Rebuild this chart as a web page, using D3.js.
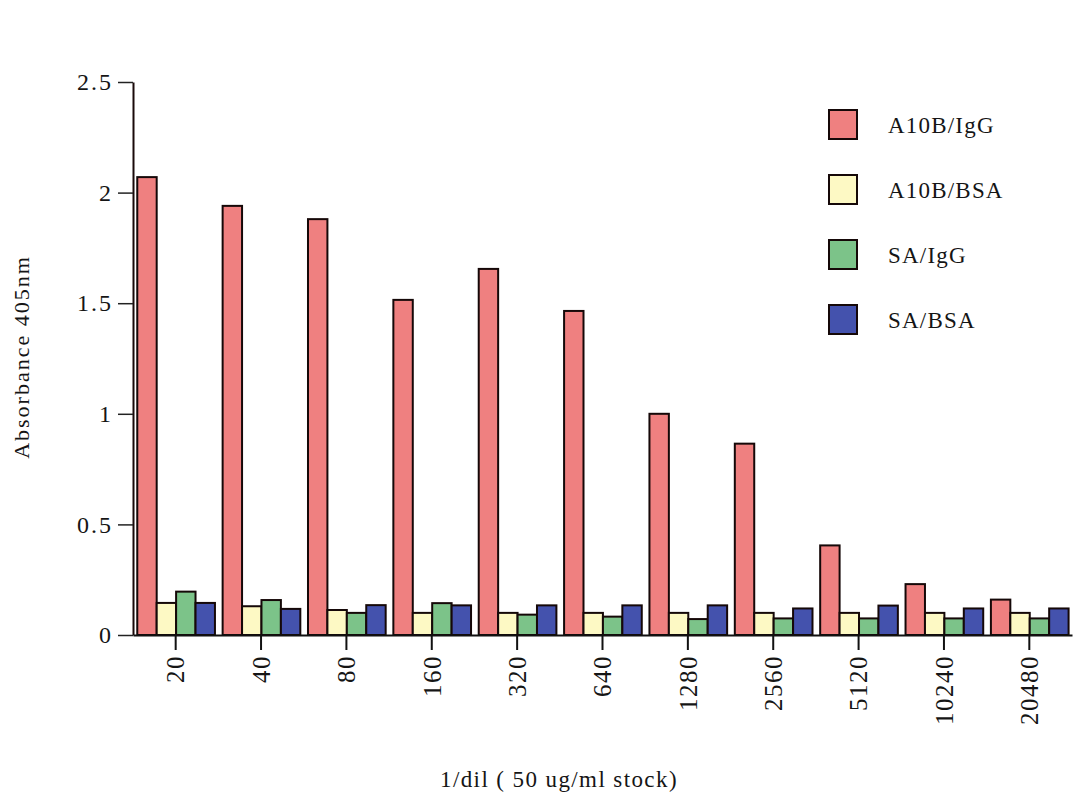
<!DOCTYPE html>
<html>
<head>
<meta charset="utf-8">
<script src="https://cdn.jsdelivr.net/npm/d3@7"></script>
<style>
  body { margin: 0; background: #fff; }
  svg { font-family: "Liberation Serif", "Times New Roman", serif; }
</style>
</head>
<body>
<svg id="chart" width="1080" height="808"></svg>
<script>
// dilutions (1/dil)
const dilutions = ["20", "40", "80", "160", "320", "640", "1280", "2560", "5120", "10240", "20480"];
const seriesNames = ["A10B/IgG", "A10B/BSA", "SA/IgG", "SA/BSA"];
const a10bIgG = [2.07, 1.94, 1.88, 1.515, 1.655, 1.465, 1.0, 0.865, 0.405, 0.23, 0.16];
const a10bBSA = [0.145, 0.13, 0.113, 0.10, 0.10, 0.10, 0.10, 0.10, 0.10, 0.10, 0.10];
const saIgG = [0.196, 0.158, 0.10, 0.144, 0.092, 0.083, 0.072, 0.075, 0.075, 0.075, 0.075];
const saBSA = [0.145, 0.118, 0.135, 0.134, 0.134, 0.134, 0.134, 0.12, 0.133, 0.12, 0.12];
const yTicks = [0, 0.5, 1, 1.5, 2, 2.5];

const colors = ["#ef8080", "#fdf9c4", "#7cc389", "#4452ad"];
const allSeries = [a10bIgG, a10bBSA, saIgG, saBSA];

const svg = d3.select("#chart");
const margin = {left: 133, right: 8, top: 82, bottom: 173};
const W = 1080, H = 808;

let x0 = d3.scaleBand()
    .domain(dilutions)
    .range([margin.left, W - margin.right])
    .padding(0);

let x1 = d3.scaleBand()
    .domain(seriesNames)
    .range([x0.bandwidth() * 0.05, x0.bandwidth() * 0.96]);

let y = d3.scaleLinear()
    .domain([0, 2.5])
    .range([H - margin.bottom, margin.top]);

let color = d3.scaleOrdinal().domain(seriesNames).range(colors);

// bars
let groups = svg.append("g").selectAll("g")
    .data(dilutions)
    .enter().append("g")
    .attr("transform", d => "translate(" + x0(d) + ",0)");

groups.selectAll("rect")
    .data((d, i) => seriesNames.map((s, j) => ({key: s, value: allSeries[j][i]})))
    .enter().append("rect")
    .attr("x", d => x1(d.key))
    .attr("y", d => y(d.value))
    .attr("width", x1.bandwidth())
    .attr("height", d => y(0) - y(d.value))
    .attr("fill", d => color(d.key))
    .attr("stroke", "#150808")
    .attr("stroke-width", 2);

// y axis
let yAxis = d3.axisLeft(y)
    .tickValues(yTicks)
    .tickSize(15)
    .tickSizeOuter(0)
    .tickPadding(5)
    .tickFormat(d => d);

let gy = svg.append("g")
    .attr("transform", "translate(" + margin.left + ",0)")
    .call(yAxis);
gy.select(".domain").attr("stroke", "#1a0a0a").attr("stroke-width", 2);
gy.selectAll(".tick line").attr("stroke", "#222").attr("stroke-width", 1.5);
gy.selectAll(".tick text")
    .attr("font-size", 24)
    .attr("letter-spacing", 2)
    .attr("fill", "#151515")
    .attr("font-family", "Liberation Serif");

// x axis
let xAxis = d3.axisBottom(x0)
    .tickSize(15)
    .tickSizeOuter(0);

let gx = svg.append("g")
    .attr("transform", "translate(0," + y(0) + ")")
    .call(xAxis);
gx.select(".domain").attr("stroke", "#111").attr("stroke-width", 2);
gx.selectAll(".tick line").attr("stroke", "#111").attr("stroke-width", 2);
gx.selectAll(".tick text")
    .attr("font-size", 25)
    .attr("letter-spacing", 1.5)
    .attr("fill", "#151515")
    .attr("font-family", "Liberation Serif")
    .attr("text-anchor", "end")
    .attr("transform", "rotate(-90)")
    .attr("x", -20)
    .attr("y", 0)
    .attr("dy", "0.35em");

// axis titles
svg.append("text")
    .attr("transform", "translate(29,357) rotate(-90)")
    .attr("text-anchor", "middle")
    .attr("font-size", 22)
    .attr("letter-spacing", 2)
    .attr("fill", "#151515")
    .text("Absorbance  405nm");

svg.append("text")
    .attr("x", 559)
    .attr("y", 787)
    .attr("text-anchor", "middle")
    .attr("font-size", 23)
    .attr("letter-spacing", 1.4)
    .attr("fill", "#151515")
    .text("1/dil ( 50 ug/ml stock)");

// legend
let legend = svg.append("g")
    .attr("transform", "translate(829,110)")
    .selectAll("g")
    .data(seriesNames)
    .enter().append("g")
    .attr("transform", (d, i) => "translate(0," + i * 65 + ")");

legend.append("rect")
    .attr("width", 28)
    .attr("height", 29)
    .attr("fill", d => color(d))
    .attr("stroke", "#150808")
    .attr("stroke-width", 2);

legend.append("text")
    .attr("x", 59)
    .attr("y", 23)
    .attr("font-size", 23)
    .attr("letter-spacing", 1.2)
    .attr("fill", "#151515")
    .text(d => d);
</script>
</body>
</html>
